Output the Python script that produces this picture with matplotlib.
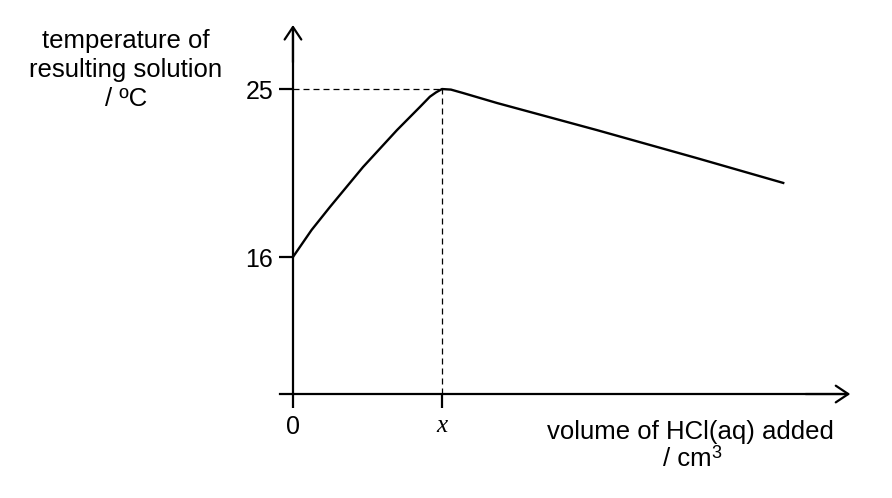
import matplotlib
matplotlib.use("Agg")
import matplotlib.pyplot as plt
from matplotlib.font_manager import FontProperties

plt.rcParams['font.family'] = ['Liberation Sans', 'DejaVu Sans']

# curve (volume in arbitrary units, x = 10)
volume = [0, 1.25, 2.48, 4.7, 6.98, 8.52, 9.19, 9.6, 10, 10.6, 11.4, 13.7, 20.4, 27.1, 32.9]
temp = [16.0, 17.45, 18.68, 20.82, 22.8, 24.04, 24.59, 24.82, 25, 24.97, 24.79, 24.25, 22.8, 21.3, 19.97]

peak_x = 10
peak_t = 25
y_ticks = [16, 25]
y_tick_labels = ['16', '25']
x_ticks = [0, peak_x]
x_tick_labels = ['0', 'x']

x_axis_at = 8.66
x_axis_end = 37.4
y_axis_end = 28.43

W, H = 892, 498
fig = plt.figure(figsize=(W / 100, H / 100), dpi=100)
ax = fig.add_axes([0, 0, 1, 1])
ax.set_xlim(-19.66, 40.2)
ax.set_ylim(3.09, 29.77)
ax.patch.set_alpha(0)

lw = 1.6
# spines as the two axes
for s in ['top', 'right']:
    ax.spines[s].set_visible(False)
ax.spines['left'].set_position(('data', 0))
ax.spines['bottom'].set_position(('data', x_axis_at))
ax.spines['left'].set_bounds(x_axis_at, y_axis_end - 0.2)
ax.spines['bottom'].set_bounds(-0.87, x_axis_end - 0.2)
ax.spines['left'].set_linewidth(lw)
ax.spines['bottom'].set_linewidth(lw)

# arrow heads
arrow = dict(arrowstyle='->,head_length=0.45,head_width=0.3', lw=lw, color='black',
             mutation_scale=20, shrinkA=0, shrinkB=0)
ax.annotate('', xy=(0, y_axis_end), xytext=(0, y_axis_end - 2), arrowprops=arrow)
ax.annotate('', xy=(x_axis_end, x_axis_at), xytext=(x_axis_end - 3, x_axis_at), arrowprops=arrow)

ax.set_yticks(y_ticks)
ax.set_yticklabels(y_tick_labels)
ax.set_xticks(x_ticks)
ax.set_xticklabels(x_tick_labels)
ax.tick_params(axis='y', direction='out', length=10, width=lw, pad=4.3, labelsize=18)
ax.tick_params(axis='x', direction='out', length=10, width=lw, pad=5, labelsize=18)
# the "x" tick is an italic serif letter
ax.get_xticklabels()[1].set_fontproperties(
    FontProperties(family='Liberation Serif', style='italic', size=18))

# dashed guide lines
ax.plot([0, peak_x], [peak_t, peak_t], color='black', lw=0.9, ls=(0, (4.8, 3.2)))
ax.plot([peak_x, peak_x], [x_axis_at, peak_t], color='black', lw=0.9, ls=(0, (4.8, 3.2)))

# the curve
ax.plot(volume, temp, color='black', lw=1.7, solid_joinstyle='round')


def put(text, x, y, ha='center', size=18.5):
    ax.annotate(text, xy=(x, H - y), xycoords='figure pixels', ha=ha,
                va='baseline', fontsize=size)


put('temperature of', 126, 48)
put('resulting solution', 126, 77)
put('/ ºC', 126, 106)
put('volume of HCl(aq) added', 690, 439)
put('/ cm', 712, 466, ha='right')
put('3', 711, 458, ha='left', size=13)

fig.savefig('out.png', dpi=100)
